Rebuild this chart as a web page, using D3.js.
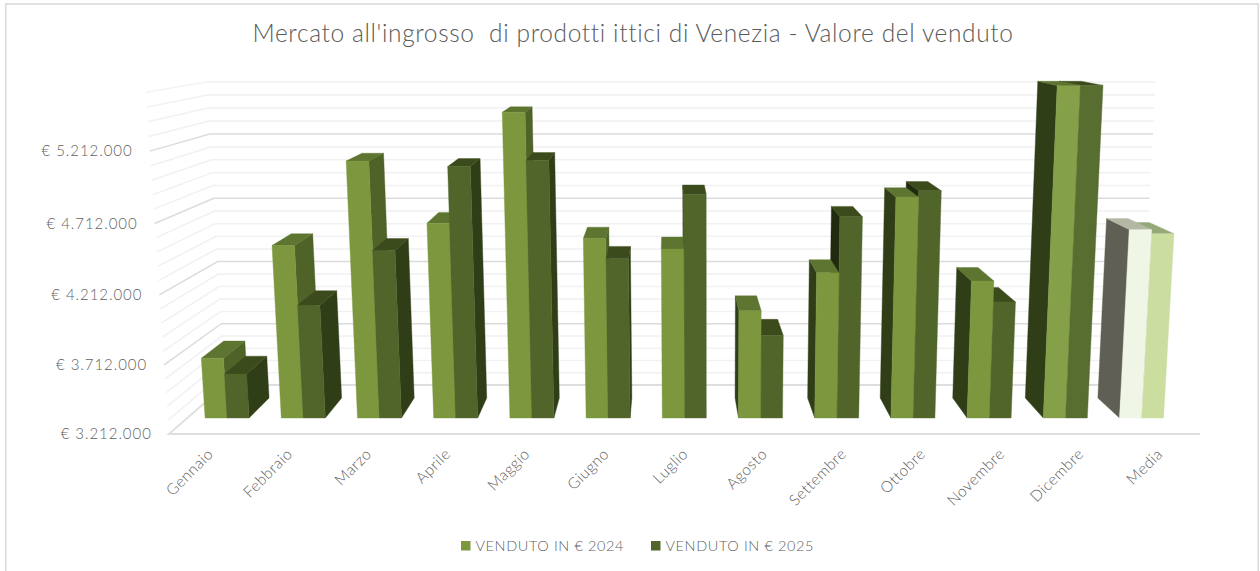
<!DOCTYPE html>
<html><head><meta charset="utf-8">
<script src="https://cdn.jsdelivr.net/npm/d3@7/dist/d3.min.js"></script>
<style>html,body{margin:0;padding:0;background:#fff}svg{display:block}text{font-family:Lato,"Open Sans",sans-serif}</style>
</head><body><svg id="c" width="1260" height="571"></svg>
<script>
const categories=["Gennaio","Febbraio","Marzo","Aprile","Maggio","Giugno","Luglio","Agosto","Settembre","Ottobre","Novembre","Dicembre","Media"];
const venduto2024=[3662000,4493000,5102000,4655000,5448000,4543000,4467000,4015000,4294000,4843000,4234000,5637000,4609000];
const venduto2025=[3543000,4055000,4456000,5062000,5107000,4396000,4863000,3832000,4701000,4889000,4080000,5637000,4579000];
const majorTicks=[3212000,3712000,4212000,4712000,5212000];
const gridValues=d3.range(0,25).map(i=>3212000+i*100000);
const seriesNames=["VENDUTO IN € 2024","VENDUTO IN € 2025"];
const titleText="Mercato all'ingrosso  di prodotti ittici di Venezia - Valore del venduto";

const svg=d3.select("#c");
const poly=d3.line();
// value -> wall units, category -> position on the bar front plane
const u=d3.scaleLinear().domain([3212000,3712000]).range([0,1]);
const x=d3.scaleBand().domain(categories).range([189,1179.6]).paddingInner(.4225).paddingOuter(.211);
// perspective model: floor depth given by screen y on the floor
const VP={x:667,y:0}, VERT={x:710,k:8000};
const DEPTH={front:434,barFront:418,barBack:398,back:385};
const depthScale=d3.scaleLinear().domain([DEPTH.back,DEPTH.front]).range([1,1.127]);
function project(xFront,value,yf){
  const xf=VP.x+(xFront-VP.x)*yf/DEPTH.barFront;
  const t=u(value);
  const h=depthScale(yf)*(60.75*t+.5*t*t);
  return [xf+(xf-VERT.x)/VERT.k*h, yf-h];
}
// frame
svg.append("rect").attr("x",5.75).attr("y",4).attr("width",1252.5).attr("height",600)
  .attr("fill","#fff").attr("stroke","#d9d9d9").attr("stroke-width",1.5);
// gridlines
const xL=187.2, xR=1180;
gridValues.forEach((v,i)=>{
  const major=(i%5===0);
  const col=major?"#dcdcdc":"#f1f1f1";
  const pts=[project(xL,v,DEPTH.front),project(xL,v,DEPTH.back),project(xR,v,DEPTH.back)];
  if(i===0) return;
  svg.append("path").attr("d",poly(pts)).attr("fill","none").attr("stroke",col).attr("stroke-width",1.5);
});
// floor
svg.append("path").attr("d",poly([project(xR,3212000,DEPTH.back),project(xL,3212000,DEPTH.back),project(xL,3212000,DEPTH.front),[1200,434]]))
  .attr("fill","none").attr("stroke","#dedede").attr("stroke-width",1.8);

// styles
const palette=[
 {front:"#7c973e",top:"#5d7530",right:"#4f6227",left:"#303e17"},
 {front:"#51652a",top:"#3c4b1c",right:"#303e17",left:"#1f2a0e"}];
const dec=[
 {front:"#84a049",top:"#5d7530",right:"#4f6227",left:"#303e17"},
 {front:"#586d30",top:"#3c4b1c",right:"#303e17",left:"#1f2a0e"}];
const media=[
 {front:"#eff6e6",top:"#b3b8a5",right:"#5f5f55",left:"#5f5f55"},
 {front:"#cbdd9f",top:"#95a877",right:"#5f5f55",left:"#5f5f55"}];
const base=3212000;
const g=svg.append("g");
function drawBar(cat,s,value){
  const bw=x.bandwidth()/2;
  const x0=x(cat)+s*bw, x1=x0+bw;
  const st=cat==="Media"?media[s]:cat==="Dicembre"?dec[s]:palette[s];
  const F=DEPTH.barFront,B=DEPTH.barBack;
  const face=(pts,c)=>g.append("path").attr("d",poly(pts)+"Z").attr("fill",c).attr("stroke",c).attr("stroke-width",.4);
  if(x1<VP.x) face([project(x1,base,F),project(x1,base,B),project(x1,value,B),project(x1,value,F)],st.right);
  if(x0>VP.x) face([project(x0,base,F),project(x0,base,B),project(x0,value,B),project(x0,value,F)],st.left);
  face([project(x0,value,F),project(x1,value,F),project(x1,value,B),project(x0,value,B)],st.top);
  face([project(x0,base,F),project(x1,base,F),project(x1,value,F),project(x0,value,F)],st.front);
}
const pad=categories.map((c,i)=>({c,i})).sort((a,b)=>{
  const da=Math.abs(x(a.c)+22-VP.x),db=Math.abs(x(b.c)+22-VP.x);return db-da;});
pad.forEach(({c,i})=>{
  const order=(x(c)+x.bandwidth()/2<VP.x)?[0,1]:[1,0];
  order.forEach(s=>drawBar(c,s,(s===0?venduto2024:venduto2025)[i]));
});

// title
svg.append("text").attr("x",633).attr("y",42).attr("text-anchor","middle")
  .attr("font-size",24.5).attr("font-weight",300).attr("fill","#5a5a5a").attr("letter-spacing",.62).style("white-space","pre").text(titleText);
// value labels
const fmt=v=>"€ "+d3.format(",")(v).replace(/,/g,".");
majorTicks.forEach(v=>{
  const p=project(xL,v,DEPTH.front);
  svg.append("text").attr("x",p[0]-17).attr("y",p[1]+5).attr("text-anchor","end")
    .attr("font-size",15).attr("font-weight",300).attr("fill","#5f5f5f").attr("letter-spacing",.95).text(fmt(v));
});
// category labels
categories.forEach(c=>{
  const p=project(x(c)+x.bandwidth()/2,base,DEPTH.front);
  svg.append("text").attr("transform",`translate(${p[0]+4},${p[1]+21}) rotate(-45)`).attr("text-anchor","end")
    .attr("font-size",15.5).attr("font-weight",300).attr("fill","#5f5f5f").attr("letter-spacing",.45).text(c);
});
// legend
const legendX=[461,651];
seriesNames.forEach((n,i)=>{
  svg.append("rect").attr("x",legendX[i]).attr("y",541).attr("width",9.5).attr("height",9.5).attr("fill",palette[i].front);
  svg.append("text").attr("x",legendX[i]+14.5).attr("y",551).attr("font-size",14.5).attr("font-weight",300).attr("fill","#5f5f5f").attr("letter-spacing",.6).text(n);
});
</script></body></html>
